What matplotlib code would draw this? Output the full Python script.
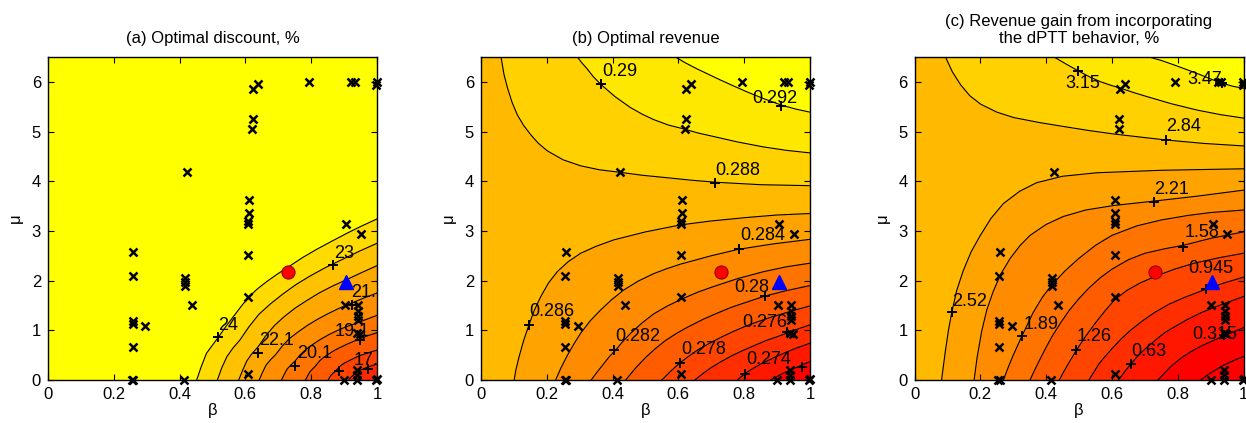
import numpy as np
import matplotlib.pyplot as plt

plt.rcParams['font.family'] = ['Liberation Sans', 'DejaVu Sans']

# scatter of parameter estimates (beta, mu), same in every panel
pts_beta = [0.255, 0.26, 0.257, 0.257, 0.257, 0.257, 0.26, 0.295,
            0.415, 0.418, 0.418, 0.418, 0.437, 0.424,
            0.609, 0.609, 0.609, 0.609, 0.609, 0.61, 0.61,
            0.621, 0.622, 0.624, 0.64, 0.793, 0.922, 0.932, 0.999, 0.998,
            0.906, 0.951, 0.902, 0.943, 0.943, 0.943, 0.943, 0.94, 0.948,
            0.9, 0.94, 0.94, 0.94, 0.998, 1.0]
pts_mu = [0.0, 0.0, 0.67, 1.12, 1.18, 2.09, 2.57, 1.08,
          0.0, 1.89, 1.98, 2.05, 1.5, 4.19,
          0.12, 1.66, 2.51, 3.13, 3.19, 3.37, 3.63,
          5.06, 5.26, 5.86, 5.95, 6.0, 6.0, 6.0, 6.0, 5.93,
          3.14, 2.94, 1.5, 1.5, 1.38, 1.28, 1.2, 0.95, 0.92,
          0.0, 0.0, 0.1, 0.2, 0.0, 0.02]
circle_pt = (0.73, 2.18)
triangle_pt = (0.905, 1.97)

# (a) optimal discount: contour lines running from the bottom edge to the right edge
a_low = [
    [(0.452, 0), (0.466, 0.27), (0.482, 0.54), (0.518, 0.86), (0.54, 1.07), (0.563, 1.27),
     (0.586, 1.47), (0.609, 1.66), (0.636, 1.83), (0.665, 1.98), (0.697, 2.13), (0.732, 2.28),
     (0.773, 2.46), (0.817, 2.63), (0.862, 2.79), (0.908, 2.95), (0.954, 3.1), (1.0, 3.24)],
    [(0.515, 0), (0.528, 0.24), (0.544, 0.47), (0.562, 0.64), (0.583, 0.80), (0.611, 1.07),
     (0.641, 1.32), (0.676, 1.53), (0.714, 1.73), (0.754, 1.92), (0.796, 2.09), (0.843, 2.26),
     (0.893, 2.42), (0.946, 2.59), (1.0, 2.75)],
    [(0.58, 0), (0.592, 0.2), (0.605, 0.39), (0.62, 0.53), (0.639, 0.67), (0.662, 0.89),
     (0.689, 1.10), (0.719, 1.28), (0.752, 1.45), (0.787, 1.6), (0.824, 1.75), (0.865, 1.89),
     (0.908, 2.02), (0.953, 2.16), (1.0, 2.3)],
    [(0.642, 0), (0.652, 0.15), (0.663, 0.30), (0.677, 0.41), (0.692, 0.51), (0.712, 0.68),
     (0.735, 0.84), (0.761, 0.97), (0.789, 1.10), (0.819, 1.22), (0.85, 1.33), (0.884, 1.44),
     (0.921, 1.54), (0.96, 1.65), (1.0, 1.75)],
    [(0.71, 0), (0.718, 0.11), (0.727, 0.22), (0.738, 0.3), (0.751, 0.38), (0.767, 0.51),
     (0.785, 0.62), (0.806, 0.72), (0.829, 0.82), (0.853, 0.91), (0.878, 0.99), (0.906, 1.07),
     (0.936, 1.14), (0.968, 1.22), (1.0, 1.3)],
    [(0.783, 0), (0.789, 0.08), (0.796, 0.16), (0.804, 0.22), (0.813, 0.28), (0.825, 0.38),
     (0.839, 0.46), (0.855, 0.53), (0.872, 0.60), (0.89, 0.66), (0.909, 0.72), (0.93, 0.78),
     (0.952, 0.84), (0.976, 0.9), (1.0, 0.95)],
    [(0.852, 0), (0.856, 0.05), (0.861, 0.10), (0.867, 0.14), (0.873, 0.17), (0.881, 0.23),
     (0.89, 0.29), (0.901, 0.34), (0.913, 0.38), (0.925, 0.42), (0.938, 0.46), (0.952, 0.5),
     (0.967, 0.53), (0.984, 0.57), (1.0, 0.6)],
    [(0.915, 0), (0.92, 0.05), (0.927, 0.09), (0.937, 0.15), (0.95, 0.20), (0.964, 0.24),
     (0.981, 0.28), (1.0, 0.32)],
]
a_bg = 1.0
a_low_g = [0.86, 0.76, 0.66, 0.56, 0.46, 0.36, 0.26, 0.16]
a_labels = ["24", "23", "22.1", "21.1", "20.1", "19.1", "17.1"]
a_label_xy = [(0.518, 0.92), (0.870, 2.38), (0.642, 0.62), (0.923, 1.58), (0.756, 0.37),
              (0.872, 0.80), (0.928, 0.23)]
a_plus = [(0.518, 0.86), (0.867, 2.31), (0.639, 0.55), (0.923, 1.51), (0.751, 0.29),
          (0.95, 0.80), (0.886, 0.18), (0.974, 0.22)]

# (b) optimal revenue: upper lines run from the top edge, lower lines from the bottom edge
b_high = [
    [(0.061, 6.5), (0.07, 6.15), (0.081, 5.87), (0.095, 5.58), (0.111, 5.33), (0.13, 5.12),
     (0.152, 4.93), (0.175, 4.76), (0.202, 4.61), (0.25, 4.43), (0.303, 4.31), (0.36, 4.23),
     (0.422, 4.18), (0.49, 4.12), (0.566, 4.07), (0.64, 4.02), (0.712, 3.98), (0.85, 3.93),
     (1.0, 3.91)],
    [(0.293, 6.5), (0.307, 6.38), (0.323, 6.26), (0.342, 6.1), (0.364, 5.95), (0.408, 5.7),
     (0.455, 5.48), (0.49, 5.35), (0.525, 5.24), (0.57, 5.13), (0.618, 5.05), (0.66, 4.97),
     (0.707, 4.90), (0.78, 4.79), (0.859, 4.69), (0.93, 4.62), (1.0, 4.57)],
    [(0.591, 6.5), (0.622, 6.38), (0.657, 6.26), (0.692, 6.15), (0.727, 6.04), (0.767, 5.92),
     (0.808, 5.80), (0.86, 5.66), (0.914, 5.53), (0.958, 5.45), (1.0, 5.39)],
]
b_low = [
    [(0.101, 0), (0.106, 0.2), (0.116, 0.47), (0.13, 0.8), (0.146, 1.11), (0.162, 1.4),
     (0.182, 1.68), (0.205, 1.95), (0.232, 2.18), (0.265, 2.38), (0.303, 2.55), (0.35, 2.69),
     (0.404, 2.82), (0.5, 2.98), (0.606, 3.12), (0.7, 3.2), (0.808, 3.27), (0.9, 3.32),
     (1.0, 3.35)],
    [(0.227, 0), (0.243, 0.24), (0.263, 0.5), (0.283, 0.73), (0.303, 0.94), (0.332, 1.19),
     (0.364, 1.41), (0.398, 1.62), (0.434, 1.81), (0.478, 1.99), (0.525, 2.14), (0.565, 2.24),
     (0.606, 2.33), (0.7, 2.5), (0.783, 2.63), (0.89, 2.74), (1.0, 2.83)],
    [(0.335, 0), (0.352, 0.15), (0.37, 0.3), (0.389, 0.46), (0.409, 0.60), (0.432, 0.78),
     (0.455, 0.94), (0.49, 1.15), (0.525, 1.33), (0.567, 1.49), (0.611, 1.63), (0.66, 1.77),
     (0.707, 1.88), (0.78, 2.04), (0.859, 2.18), (0.93, 2.28), (1.0, 2.35)],
    [(0.44, 0), (0.47, 0.24), (0.5, 0.45), (0.53, 0.63), (0.56, 0.79), (0.595, 0.94),
     (0.63, 1.07), (0.675, 1.22), (0.72, 1.35), (0.76, 1.46), (0.8, 1.55), (0.864, 1.69),
     (0.93, 1.8), (1.0, 1.9)],
    [(0.55, 0), (0.577, 0.18), (0.604, 0.34), (0.632, 0.48), (0.66, 0.61), (0.695, 0.74),
     (0.73, 0.86), (0.765, 0.97), (0.8, 1.07), (0.84, 1.17), (0.88, 1.26), (0.94, 1.38),
     (1.0, 1.49)],
    [(0.65, 0), (0.675, 0.13), (0.7, 0.25), (0.73, 0.37), (0.76, 0.48), (0.795, 0.59),
     (0.83, 0.69), (0.865, 0.79), (0.9, 0.87), (0.929, 0.94), (0.965, 1.03), (1.0, 1.11)],
    [(0.78, 0), (0.79, 0.06), (0.803, 0.13), (0.826, 0.23), (0.85, 0.32), (0.875, 0.4),
     (0.9, 0.48), (0.925, 0.55), (0.95, 0.62), (0.975, 0.68), (1.0, 0.74)],
    [(0.88, 0), (0.9, 0.07), (0.92, 0.14), (0.947, 0.22), (0.975, 0.3), (1.0, 0.37)],
]
b_bg = 0.73
b_high_g = [0.82, 0.91, 1.0]
b_low_g = [0.64, 0.55, 0.45, 0.36, 0.27, 0.18, 0.09, 0.0]
b_labels = ["0.29", "0.292", "0.288", "0.284", "0.28", "0.286", "0.282", "0.276", "0.278", "0.274"]
b_label_xy = [(0.369, 6.03), (0.825, 5.49), (0.712, 4.04), (0.787, 2.73), (0.770, 1.69),
              (0.146, 1.21), (0.408, 0.71), (0.795, 0.98), (0.608, 0.45), (0.805, 0.25)]
b_plus = [(0.364, 5.95), (0.911, 5.52), (0.712, 3.97), (0.146, 1.11), (0.783, 2.63),
          (0.405, 0.60), (0.864, 1.69), (0.604, 0.34), (0.929, 0.97), (0.803, 0.13), (0.975, 0.27)]

# (c) revenue gain
c_high = [
    [(0.094, 6.5), (0.115, 6.2), (0.14, 5.94), (0.168, 5.72), (0.201, 5.55), (0.25, 5.39),
     (0.302, 5.28), (0.38, 5.18), (0.454, 5.10), (0.53, 5.02), (0.606, 4.95), (0.684, 4.89),
     (0.764, 4.83), (0.88, 4.76), (1.0, 4.71)],
    [(0.424, 6.5), (0.46, 6.36), (0.498, 6.22), (0.532, 6.1), (0.566, 6.0), (0.597, 5.93),
     (0.627, 5.87), (0.668, 5.78), (0.708, 5.70), (0.78, 5.56), (0.86, 5.43), (0.93, 5.34),
     (1.0, 5.27)],
    [(0.713, 6.5), (0.75, 6.43), (0.789, 6.34), (0.83, 6.24), (0.87, 6.14), (0.903, 6.05),
     (0.936, 5.97), (0.968, 5.91), (1.0, 5.87)],
]
c_low = [
    [(0.082, 0), (0.088, 0.3), (0.094, 0.6), (0.103, 1.0), (0.113, 1.36), (0.128, 1.8),
     (0.148, 2.2), (0.172, 2.58), (0.199, 2.9), (0.232, 3.25), (0.27, 3.55), (0.32, 3.8),
     (0.371, 3.97), (0.45, 4.1), (0.554, 4.17), (0.75, 4.22), (1.0, 4.25)],
    [(0.181, 0), (0.19, 0.45), (0.204, 0.98), (0.22, 1.42), (0.239, 1.78), (0.262, 2.13),
     (0.29, 2.44), (0.32, 2.7), (0.351, 2.91), (0.4, 3.13), (0.452, 3.29), (0.52, 3.42),
     (0.604, 3.51), (0.728, 3.6), (0.86, 3.7), (1.0, 3.82)],
    [(0.27, 0), (0.285, 0.26), (0.3, 0.5), (0.326, 0.88), (0.36, 1.35), (0.388, 1.66),
     (0.418, 1.92), (0.458, 2.2), (0.5, 2.45), (0.55, 2.71), (0.6, 2.91), (0.675, 3.1),
     (0.75, 3.22), (0.83, 3.31), (0.9, 3.37), (1.0, 3.42)],
    [(0.351, 0), (0.365, 0.2), (0.38, 0.4), (0.4, 0.66), (0.42, 0.9), (0.445, 1.16),
     (0.47, 1.4), (0.5, 1.64), (0.53, 1.85), (0.565, 2.06), (0.6, 2.23), (0.65, 2.42),
     (0.7, 2.55), (0.76, 2.64), (0.817, 2.71), (0.9, 2.85), (1.0, 2.98)],
    [(0.44, 0), (0.452, 0.15), (0.465, 0.3), (0.492, 0.6), (0.52, 0.88), (0.55, 1.15),
     (0.58, 1.4), (0.609, 1.62), (0.645, 1.8), (0.685, 1.95), (0.73, 2.08), (0.79, 2.23),
     (0.85, 2.35), (0.925, 2.46), (1.0, 2.55)],
    [(0.53, 0), (0.545, 0.16), (0.56, 0.32), (0.58, 0.48), (0.6, 0.63), (0.63, 0.84),
     (0.66, 1.02), (0.695, 1.2), (0.73, 1.36), (0.775, 1.53), (0.82, 1.66), (0.887, 1.83),
     (0.94, 1.95), (1.0, 2.07)],
    [(0.62, 0), (0.638, 0.16), (0.657, 0.32), (0.678, 0.48), (0.7, 0.62), (0.73, 0.79),
     (0.76, 0.95), (0.795, 1.09), (0.83, 1.22), (0.87, 1.35), (0.91, 1.46), (0.955, 1.57),
     (1.0, 1.68)],
    [(0.74, 0), (0.76, 0.14), (0.78, 0.28), (0.81, 0.44), (0.84, 0.57), (0.87, 0.68),
     (0.9, 0.77), (0.941, 0.89), (0.97, 0.97), (1.0, 1.05)],
    [(0.87, 0), (0.895, 0.12), (0.92, 0.22), (0.94, 0.3), (0.96, 0.36), (0.98, 0.42),
     (1.0, 0.47)],
]
c_bg = 0.73
c_high_g = [0.82, 0.91, 1.0]
c_low_g = [0.64, 0.55, 0.45, 0.36, 0.27, 0.18, 0.09, 0.0, 0.0]
c_labels = ["3.15", "3.47", "2.84", "2.21", "1.58", "0.945", "2.52", "1.89", "1.26", "0.63", "0.315"]
c_label_xy = [(0.457, 5.80), (0.828, 5.87), (0.765, 4.92), (0.728, 3.66), (0.822, 2.79),
              (0.833, 2.08), (0.113, 1.41), (0.331, 0.94), (0.493, 0.71), (0.660, 0.41),
              (0.843, 0.75)]
c_plus = [(0.498, 6.22), (0.936, 5.97), (0.764, 4.83), (0.728, 3.59), (0.817, 2.68),
          (0.887, 1.83), (0.113, 1.36), (0.326, 0.88), (0.492, 0.60), (0.657, 0.32),
          (0.941, 0.91)]

titles = ["(a) Optimal discount, %", "(b) Optimal revenue",
          "(c) Revenue gain from incorporating\nthe dPTT behavior, %"]

YMAX = 6.5


def draw_panel(ax, bg, low, low_g, high, high_g, labels, label_xy, plus, title):
    ax.set_facecolor((1, bg, 0))
    for curve, g in zip(high, high_g):
        xs = [p[0] for p in curve] + [1.0]
        ys = [p[1] for p in curve] + [YMAX]
        ax.fill(xs, ys, color=(1, g, 0), lw=0, zorder=1)
    for curve, g in zip(low, low_g):
        xs = [p[0] for p in curve] + [1.0]
        ys = [p[1] for p in curve] + [0.0]
        ax.fill(xs, ys, color=(1, g, 0), lw=0, zorder=1)
    for curve in high + low:
        ax.plot([p[0] for p in curve], [p[1] for p in curve], color="black", lw=0.8, zorder=2)

    ax.plot([p[0] for p in plus], [p[1] for p in plus], ls="", marker="+", ms=7, mew=1.4,
            color="black", zorder=3, clip_on=False)
    for s, (x, y) in zip(labels, label_xy):
        ax.text(x, y, s, fontsize=13, ha="left", va="bottom", zorder=4, clip_on=True)

    ax.plot(pts_beta, pts_mu, ls="", marker="x", ms=5.5, mew=1.8, color="black", zorder=5,
            clip_on=False)
    ax.plot(*circle_pt, marker="o", ms=9.5, mfc="red", mec="#800000", mew=0.7, zorder=6)
    ax.plot(*triangle_pt, marker="^", ms=10.5, mfc="blue", mec="blue", zorder=6)

    ax.set_xlim(0, 1)
    ax.set_ylim(0, YMAX)
    ax.set_xticks([0, 0.2, 0.4, 0.6, 0.8, 1])
    ax.set_xticklabels(["0", "0.2", "0.4", "0.6", "0.8", "1"])
    ax.set_yticks([0, 1, 2, 3, 4, 5, 6])
    ax.tick_params(direction="in", top=True, right=True, labelsize=12, length=4, pad=5)
    for sp in ax.spines.values():
        sp.set_linewidth(1.0)
        sp.set_zorder(7)
    ax.set_xlabel("β", fontsize=12, labelpad=1)
    ax.set_ylabel("μ", fontsize=12, labelpad=6)
    ax.set_title(title, fontsize=12, pad=10)


fig = plt.figure(figsize=(12.46, 4.23), dpi=100)
lefts = [0.0385, 0.386, 0.734]
for i in range(3):
    ax = fig.add_axes([lefts[i], 0.1017, 0.264, 0.7636])
    if i == 0:
        draw_panel(ax, a_bg, a_low, a_low_g, [], [], a_labels, a_label_xy, a_plus, titles[0])
    elif i == 1:
        draw_panel(ax, b_bg, b_low, b_low_g, b_high, b_high_g, b_labels, b_label_xy, b_plus,
                   titles[1])
    else:
        draw_panel(ax, c_bg, c_low, c_low_g, c_high, c_high_g, c_labels, c_label_xy, c_plus,
                   titles[2])

fig.savefig("out.png", dpi=100)
